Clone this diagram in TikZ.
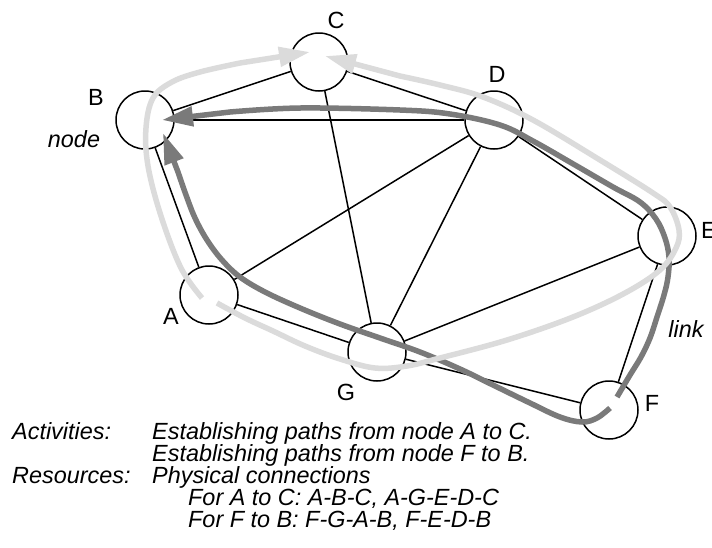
\documentclass[tikz,border=0pt]{standalone}
\usepackage{fontspec}
\setmainfont{Liberation Sans}
\usetikzlibrary{arrows.meta}
\begin{document}
\begin{tikzpicture}[x=1pt,y=-1pt,
  netnode/.style={circle,draw,fill=white,line width=1.5pt,minimum size=58pt,inner sep=0pt},
  link/.style={line width=1.5pt},
  tag/.style={font=\fontsize{23.4}{25}\selectfont,inner sep=0pt},
  note/.style={font=\fontsize{23.4}{25}\selectfont\itshape,inner sep=0pt},
  textline/.style={note,anchor=base west},
  lightroute/.style={line width=5.5pt,draw=black!14,-{Triangle[length=31pt,width=19pt]}},
  darkroute/.style={line width=5.5pt,draw=black!52,-{Triangle[length=31pt,width=19pt]}},
]
\useasboundingbox (0,0) rectangle (712,547);

% network nodes
\node[netnode] (C) at (319,62) {};
\node[netnode] (B) at (145,120) {};
\node[netnode] (D) at (494,120) {};
\node[netnode] (E) at (667,236) {};
\node[netnode] (A) at (209,295) {};
\node[netnode] (G) at (377,352) {};
\node[netnode] (F) at (609,410) {};

% physical links
\draw[link] (B) -- (C);
\draw[link] (B) -- (D);
\draw[link] (C) -- (D);
\draw[link] (C) -- (G);
\draw[link] (D) -- (E);
\draw[link] (D) -- (A);
\draw[link] (D) -- (G);
\draw[link] (A) -- (B);
\draw[link] (A) -- (G);
\draw[link] (G) -- (E);
\draw[link] (G) -- (F);
\draw[link] (E) -- (F);

% paths from F to B
\draw[darkroute] plot[smooth,tension=0.6] coordinates {(610,408) (597,418) (582,422) (560,417) (530,403) (495,386) (460,369) (420,352) (380,338) (340,324) (300,308) (265,292) (240,277) (222,260) (207,240) (195,218) (186,195) (178,172)} -- (163,133);
\draw[darkroute] plot[smooth,tension=0.6] coordinates {(617,397) (630,375) (641,357) (650,338) (657,317) (664,295) (668,277) (669,257) (665,238) (656,219) (640,202) (613,187) (575,165) (533,141) (500,125) (450,114) (400,110) (300,108) (230,112)} -- (162,120);

% paths from A to C
\draw[lightroute] plot[smooth,tension=0.6] coordinates {(202,298) (181,268) (161,216) (148,166) (146,128) (153,98) (172,82) (200,72) (240,63)} -- (310,52);
\draw[lightroute] plot[smooth,tension=0.6] coordinates {(217,303) (245,318) (273,331) (305,346) (340,359) (375,368) (407,366) (440,358) (507,340) (573,317) (625,293) (660,270) (676,248) (679,230) (670,207) (653,193) (600,160) (533,120) (483,97) (440,85) (400,76)} -- (325,56);

% node labels
\node[tag] (tC) at (336,20) {C};
\node[tag] (tB) at (96,97) {B};
\node[tag] (tD) at (497,74) {D};
\node[tag,anchor=west] (tE) at (701,230) {E};
\node[tag] (tA) at (171,316) {A};
\node[tag] (tG) at (346,392) {G};
\node[tag] (tF) at (652,403) {F};
\node[note] (tnode) at (74,139) {node};
\node[note] (tlink) at (686,329) {link};

% legend text
\node[textline] (act) at (12,439) {Activities:};
\node[textline] (act1) at (152,439) {Establishing paths from node A to C.};
\node[textline] (act2) at (152,461) {Establishing paths from node F to B.};
\node[textline] (res) at (12,483) {Resources:};
\node[textline] (res1) at (152,483) {Physical connections};
\node[textline] (res2) at (188,505) {For A to C: A-B-C, A-G-E-D-C};
\node[textline] (res3) at (188,527) {For F to B: F-G-A-B, F-E-D-B};
\end{tikzpicture}
\end{document}
